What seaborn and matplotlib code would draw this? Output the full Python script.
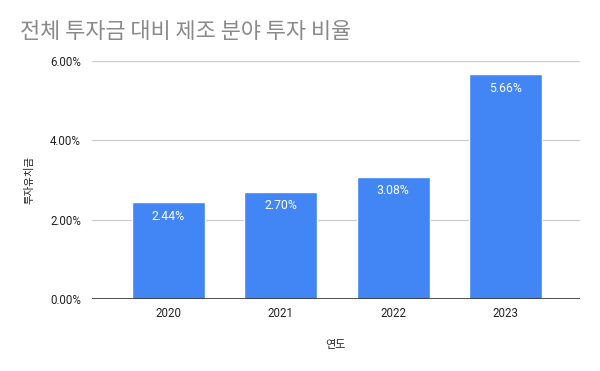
import matplotlib
matplotlib.use("Agg")
import matplotlib.pyplot as plt
import seaborn as sns
import pandas as pd

years = ["2020", "2021", "2022", "2023"]
ratios = [0.0244, 0.0270, 0.0308, 0.0566]
labels = ["2.44%", "2.70%", "3.08%", "5.66%"]
yticks = [0.0, 0.02, 0.04, 0.06]
ytick_labels = ["0.00%", "2.00%", "4.00%", "6.00%"]

sns.set_theme(style="white")
plt.rcParams['font.family'] = ['Roboto', 'Noto Sans CJK KR', 'DejaVu Sans']

df = pd.DataFrame({"year": years, "ratio": ratios})

fig = plt.figure(figsize=(6, 3.71), dpi=100)
ax = fig.add_axes([92/600, 1-299/371, (580-92)/600, (299-61)/371])

sns.barplot(data=df, x="year", y="ratio", color="#4285F4", width=0.65,
            saturation=1, ax=ax, zorder=3)

ax.set_ylim(0, 0.06)
ax.set_xlim(-0.676, 3.66)
ax.set_yticks(yticks)
ax.set_yticklabels(ytick_labels)
ax.yaxis.grid(True, color="#cccccc", linewidth=0.9, zorder=0)
ax.axhline(0, color="#333333", linewidth=1.2, zorder=4)
for s in ax.spines.values():
    s.set_visible(False)
ax.tick_params(axis="both", length=0, labelsize=8.3, colors="#222222")
ax.tick_params(axis="y", pad=8)
ax.tick_params(axis="x", pad=6)

for p, lab in zip(ax.patches, labels):
    ax.annotate(lab, (p.get_x() + p.get_width()/2, p.get_height()),
                xytext=(0, -10), textcoords="offset points",
                ha="center", va="center", color="white", fontsize=8.8, zorder=5)

ax.set_xlabel("연도", fontsize=8, color="#222222",
              family=['Noto Sans CJK KR', 'DejaVu Sans'], labelpad=14)
ax.set_ylabel("투자유치금", fontsize=7.5, color="#222222",
              family=['Noto Sans CJK KR', 'DejaVu Sans'], labelpad=11)

fig.text(20/600, 1-32/371, "전체 투자금 대비 제조 분야 투자 비율", fontsize=15.8,
         color="#8a8a8a", va="center", ha="left", fontweight=300,
         family=['Noto Sans CJK KR', 'DejaVu Sans'])

fig.savefig("out.png", dpi=100, facecolor="white")
